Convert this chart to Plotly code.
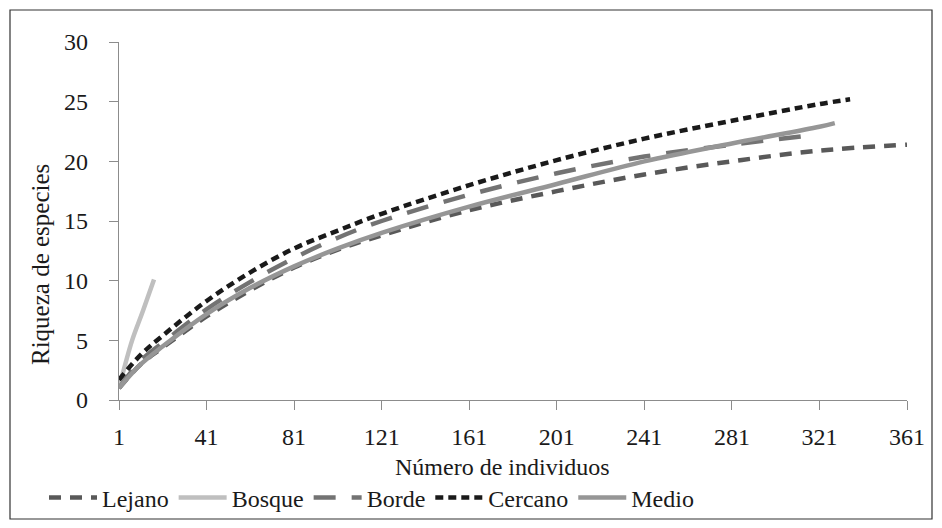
import plotly.graph_objects as go

# Data (rarefaction curves)
lejano_x = [1, 11, 21, 41, 61, 81, 101, 121, 161, 201, 241, 281, 321, 361]
lejano_y = [1.0, 3.0, 4.4, 7.0, 9.2, 11.1, 12.6, 13.8, 15.9, 17.5, 18.9, 20.0, 20.9, 21.4]

bosque_x = [1, 4, 7, 12, 17]
bosque_y = [1.0, 3.1, 5.0, 7.5, 10.1]

borde_x = [1, 11, 21, 41, 61, 81, 101, 121, 161, 201, 241, 281, 318]
borde_y = [1.0, 3.3, 4.8, 7.6, 9.9, 11.9, 13.6, 15.0, 17.2, 19.0, 20.4, 21.4, 22.2]

cercano_x = [1, 11, 21, 41, 61, 81, 101, 121, 161, 201, 241, 281, 321, 335]
cercano_y = [1.7, 3.8, 5.4, 8.3, 10.7, 12.7, 14.2, 15.6, 18.0, 20.1, 21.9, 23.4, 24.8, 25.2]

medio_x = [1, 11, 21, 41, 61, 81, 101, 121, 161, 201, 241, 281, 321, 328]
medio_y = [1.0, 3.0, 4.5, 7.2, 9.4, 11.2, 12.7, 14.0, 16.2, 18.1, 20.0, 21.5, 22.9, 23.2]

x_ticks = [1, 41, 81, 121, 161, 201, 241, 281, 321, 361]
y_ticks = [0, 5, 10, 15, 20, 25, 30]

FONT = "Liberation Serif, Times New Roman, Times, DejaVu Serif, serif"
TXT = "#1a1a1a"

fig = go.Figure()
fig.add_trace(go.Scatter(x=lejano_x, y=lejano_y, name="Lejano", mode="lines",
                         line=dict(color="#595959", width=4.5, dash="12px,9px", shape="spline")))
fig.add_trace(go.Scatter(x=bosque_x, y=bosque_y, name="Bosque", mode="lines",
                         line=dict(color="#bfbfbf", width=4.5, shape="spline")))
fig.add_trace(go.Scatter(x=borde_x, y=borde_y, name="Borde", mode="lines",
                         line=dict(color="#737373", width=4.5, dash="22px,16px", shape="spline")))
fig.add_trace(go.Scatter(x=cercano_x, y=cercano_y, name="Cercano", mode="lines",
                         line=dict(color="#1a1a1a", width=4.5, dash="8px,5px", shape="spline")))
fig.add_trace(go.Scatter(x=medio_x, y=medio_y, name="Medio", mode="lines",
                         line=dict(color="#969696", width=4.5, shape="spline")))

# page has an 8px body margin: figure is drawn 8px right/down
OFF = 8
W, H = 942 - 2 * OFF, 528 - 2 * OFF
# plot area in screen pixels: x 119..907, y 42..400
L, R, T, B = 119 - OFF, W - (907 - OFF), 42 - OFF, H - (400 - OFF)
pw, ph = W - L - R, H - T - B


def px(xs):
    return (xs - OFF - L) / pw


def py(ys):
    return (H - B - (ys - OFF)) / ph


fig.update_layout(
    width=W, height=H,
    margin=dict(l=L, r=R, t=T, b=B, pad=0, autoexpand=False),
    paper_bgcolor="white", plot_bgcolor="white",
    font=dict(family=FONT, size=24, color=TXT),
    showlegend=True,
    legend=dict(orientation="h",
                xref="container", x=(44 - OFF) / W, xanchor="left",
                yref="container", y=(H - (498 - OFF)) / H, yanchor="middle",
                font=dict(family=FONT, size=24, color=TXT),
                bgcolor="rgba(0,0,0,0)", itemwidth=48, tracegroupgap=0),
    xaxis=dict(range=[1, 361], tickvals=x_ticks, ticktext=[str(v) for v in x_ticks],
               showgrid=False, zeroline=False, showline=True, linecolor="#8c8c8c", linewidth=1.2,
               ticks="outside", ticklen=9, tickcolor="#8c8c8c", tickwidth=1.2, automargin=False,
               tickfont=dict(family=FONT, size=24, color=TXT), ticklabelstandoff=6),
    yaxis=dict(range=[0, 30], tickvals=y_ticks,
               showgrid=False, zeroline=False, showline=True, linecolor="#8c8c8c", linewidth=1.2,
               ticks="outside", ticklen=9, tickcolor="#8c8c8c", tickwidth=1.2, automargin=False,
               tickfont=dict(family=FONT, size=24, color=TXT), ticklabelstandoff=16),
    annotations=[
        dict(text="Número de individuos", xref="paper", yref="paper", x=px(502), y=py(467),
             xanchor="center", yanchor="middle", showarrow=False,
             font=dict(family=FONT, size=24, color=TXT)),
        dict(text="Riqueza de especies", xref="paper", yref="paper", x=px(40), y=py(265),
             xanchor="center", yanchor="middle", showarrow=False, textangle=-90,
             font=dict(family=FONT, size=25, color=TXT)),
    ],
    shapes=[
        dict(type="rect", xref="paper", yref="paper", x0=px(10), x1=px(932), y0=py(519), y1=py(10),
             line=dict(color="#333333", width=1.2), fillcolor="rgba(0,0,0,0)", layer="below"),
    ],
)

fig.write_html("out.html")
